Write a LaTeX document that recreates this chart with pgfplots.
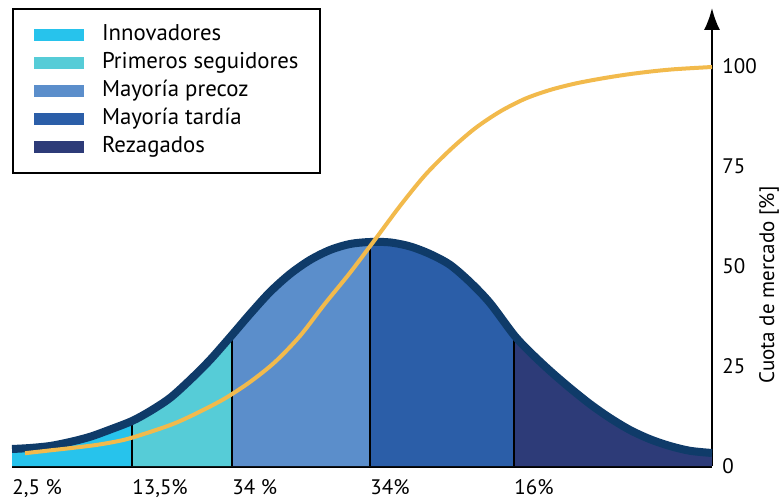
\documentclass[border=0pt]{standalone}
\usepackage{fontspec}
\setmainfont{PT Sans}
\usepackage{pgfplots}
\pgfplotsset{compat=1.18}
\usetikzlibrary{arrows.meta}
\definecolor{cInn}{HTML}{27C3EC}
\definecolor{cPri}{HTML}{56CCD7}
\definecolor{cPre}{HTML}{5B8ECB}
\definecolor{cTar}{HTML}{2B5EA8}
\definecolor{cRez}{HTML}{2D3B78}
\definecolor{cLine}{HTML}{0F3B69}
\definecolor{cYel}{HTML}{F2BA4C}
\begin{document}
\begin{tikzpicture}[font=\fontsize{10.5bp}{12.6bp}\selectfont]
\useasboundingbox (0,0) rectangle (390.5bp,249bp);
\begin{axis}[
  at={(6bp,16bp)}, anchor=south west,
  x=0.5bp, y=2bp,
  xmin=12, xmax=712, ymin=0, ymax=114.5,
  axis x line*=bottom, axis y line*=right,
  x axis line style={line width=1.5bp, black},
  y axis line style={line width=1bp, black, -{Latex[length=11bp,width=8bp]}},
  major tick length=0pt,
  xtick={12,132,232,370,514},
  xticklabels={{2,5 \%},{13,5\%},{34 \%},{34\%},{16\%}},
  xticklabel style={anchor=north west, inner sep=0pt, yshift=-6.5bp, font=\fontsize{10.5bp}{12.6bp}\selectfont},
  ytick={0,25,50,75,100},
  yticklabel style={anchor=west, inner sep=0pt, xshift=5bp, font=\fontsize{10.5bp}{12.6bp}\selectfont},
  /pgf/number format/assume math mode=true,
  ylabel={Cuota de mercado [\%]},
  ylabel style={at={(axis cs:769,45.25)}, anchor=center, rotate=0, font=\fontsize{10.5bp}{12.6bp}\selectfont},
  clip=false,
  legend image code/.code={\fill[#1] (0bp,-3bp) rectangle (25bp,3bp);},
  legend cell align=left,
  legend style={at={(axis cs:12,114.5)}, anchor=north west, draw=black, line width=1bp,
    inner xsep=10.5bp, inner ysep=8bp, row sep=3.8bp,
    font=\fontsize{11.4bp}{13.7bp}\selectfont,
    nodes={inner sep=0pt, text height=7.6bp, text depth=2.6bp},
    /tikz/every odd column/.append style={column sep=9bp}},
]
\addplot[fill=cInn, draw=none, smooth] coordinates {(12,4.25)(30,4.5)(50,5.0)(70,6.0)(90,7.3)(110,9.1)(132,11.25)} \closedcycle;
\addlegendentry{Innovadores}
\addplot[fill=cPri, draw=none, smooth] coordinates {(132,11.25)(150,13.7)(170,17.0)(190,21.5)(210,26.5)(232,32.75)} \closedcycle;
\addlegendentry{Primeros seguidores}
\addplot[fill=cPre, draw=none, smooth] coordinates {(232,32.75)(250,38.0)(270,43.5)(290,48.0)(310,51.5)(330,54.0)(350,55.5)(370,56)} \closedcycle;
\addlegendentry{Mayoría precoz}
\addplot[fill=cTar, draw=none, smooth] coordinates {(370,56)(390,55.9)(410,54.9)(430,53.0)(450,50.3)(470,46.0)(490,40.75)(514,32.75)} \closedcycle;
\addlegendentry{Mayoría tardía}
\addplot[fill=cRez, draw=none, smooth] coordinates {(514,32.75)(530,28.5)(550,23.8)(570,19.5)(590,15.5)(610,12.0)(630,9.0)(650,6.7)(670,5.0)(690,3.8)(712,3.25)} \closedcycle;
\addlegendentry{Rezagados}
% dividers
\addplot[black, line width=0.8bp, forget plot] coordinates {(132,0)(132,11.25)};
\addplot[black, line width=0.8bp, forget plot] coordinates {(232,0)(232,32.75)};
\addplot[black, line width=0.8bp, forget plot] coordinates {(370,0)(370,56)};
\addplot[black, line width=0.8bp, forget plot] coordinates {(514,0)(514,32.75)};
% bell outline
\addplot[cLine, line width=4bp, smooth, forget plot] coordinates {(12,4.25)(30,4.5)(50,5.0)(70,6.0)(90,7.3)(110,9.1)(132,11.25)(150,13.7)(170,17.0)(190,21.5)(210,26.5)(232,32.75)(250,38.0)(270,43.5)(290,48.0)(310,51.5)(330,54.0)(350,55.5)(370,56)(390,55.9)(410,54.9)(430,53.0)(450,50.3)(470,46.0)(490,40.75)(514,32.75)(530,28.5)(550,23.8)(570,19.5)(590,15.5)(610,12.0)(630,9.0)(650,6.7)(670,5.0)(690,3.8)(712,3.25)};
% cumulative curve
\addplot[cYel, line width=2bp, smooth, forget plot] coordinates {(25,3.2)(50,3.9)(75,4.6)(100,5.4)(125,6.6)(150,8.5)(175,10.7)(200,13.6)(225,16.9)(250,21.0)(275,26.0)(300,32.5)(325,40.6)(350,48.3)(375,56.6)(400,65.0)(425,72.7)(450,79.0)(475,84.4)(500,88.6)(525,91.8)(550,94.0)(575,95.6)(600,96.8)(625,97.8)(650,98.6)(675,99.2)(712,99.75)};
\end{axis}
\end{tikzpicture}
\end{document}
